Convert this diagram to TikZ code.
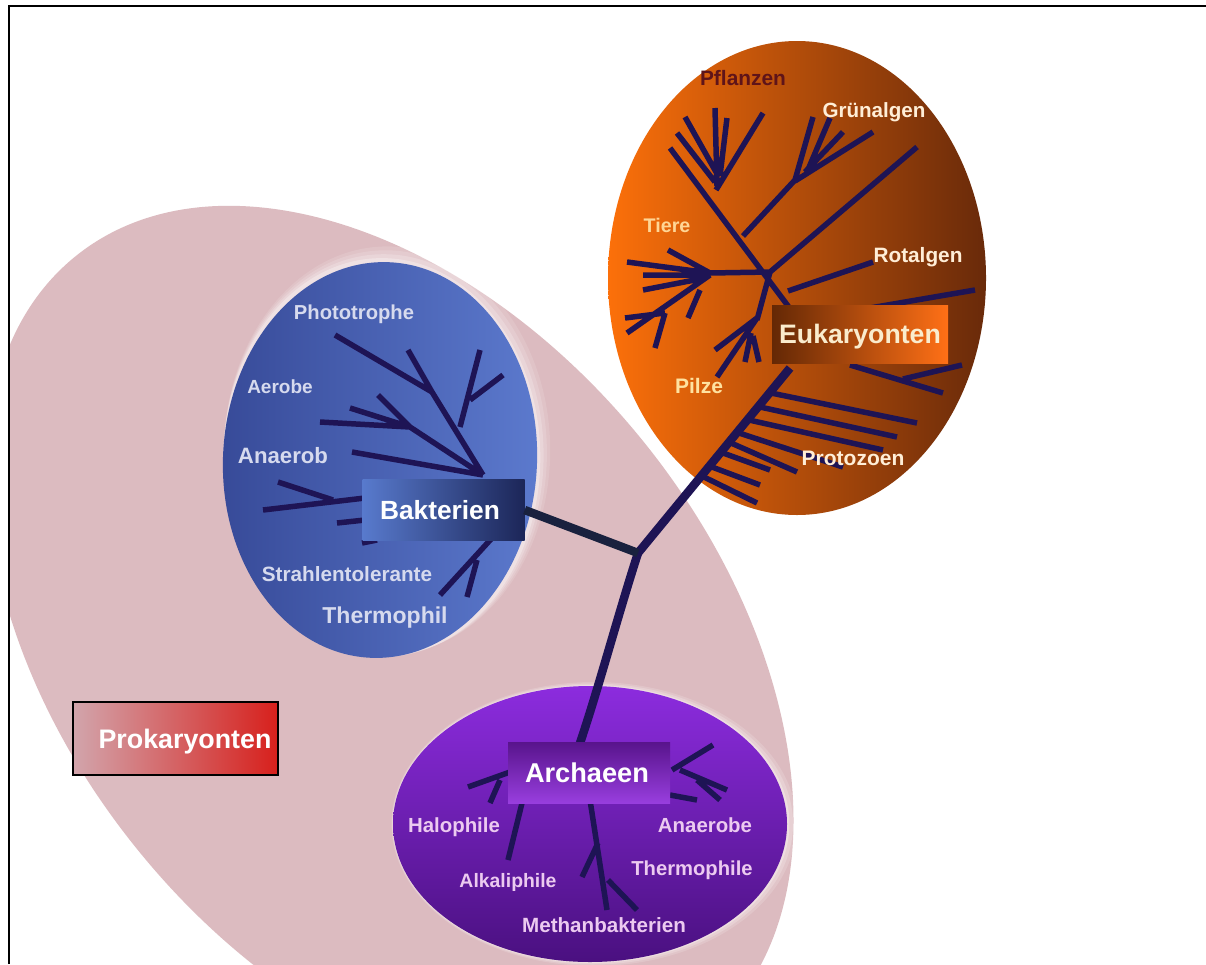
\documentclass[tikz,border=0pt]{standalone}
\usepackage{fontspec}
\setmainfont{Liberation Sans}
\definecolor{pinkbg}{RGB}{220,187,192}
\definecolor{treec}{RGB}{30,20,85}
\definecolor{linkc}{RGB}{25,33,62}
\definecolor{blueL}{RGB}{55,74,152}
\definecolor{blueR}{RGB}{92,122,206}
\definecolor{orA}{RGB}{252,112,10}
\definecolor{orB}{RGB}{226,98,12}
\definecolor{orC}{RGB}{105,42,10}
\definecolor{puT}{RGB}{140,44,222}
\definecolor{puB}{RGB}{74,16,128}
\definecolor{btxt}{RGB}{214,218,238}
\definecolor{atxt}{RGB}{236,202,240}
\definecolor{pflc}{RGB}{95,20,25}
\definecolor{cream}{RGB}{255,238,215}
\definecolor{tierc}{RGB}{255,214,150}
\definecolor{pilzc}{RGB}{255,226,160}
\definecolor{eutxt}{RGB}{250,236,205}
\begin{document}
\begin{tikzpicture}[x=1pt,y=-1pt,
  br/.style={draw=treec, line width=5.5pt},
  trunkline/.style={draw=treec, line width=8.5pt},
  lbl/.style={font=\bfseries\fontsize{#1}{#1}\selectfont, inner sep=0pt, anchor=base},
  lbl/.default=20.5,
  box/.style={inner sep=0pt, minimum width=#1},
]
\useasboundingbox (0,0) rectangle (1206,964);
\fill[white] (0,0) rectangle (1206,964);
\begin{scope}
\clip (10,7.5) rectangle (1206,964);
% Prokaryonten background
\fill[pinkbg, rotate around={-51:(390,645)}] (390,645) ellipse [x radius=500, y radius=325];
% soft halos
\foreach \d/\o in {12/0.12,9/0.15,6/0.2,3/0.3}{
  \fill[white, opacity=\o] (380+\d*0.6,460-\d*0.8) ellipse [x radius=157+\d*0.5, y radius=198+\d*0.5];
}
\foreach \d/\o in {8/0.15,5/0.2,2/0.3}{
  \fill[white, opacity=\o] (797-\d*0.5,278+\d*0.5) ellipse [x radius=189+\d*0.6, y radius=237+\d*0.6];
  \fill[white, opacity=\o] (590+\d*0.5,824) ellipse [x radius=197+\d*0.7, y radius=138+\d*0.5];
}
% Bakterien ellipse
\shade[left color=blueL, right color=blueR, rotate around={-3:(380,460)}] (380,460) ellipse [x radius=157, y radius=198];
% Eukaryonten ellipse
\shade[left color=orA, middle color=orB, right color=orC] (797,278) ellipse [x radius=189, y radius=237];
% Archaeen ellipse
\shade[top color=puT, bottom color=puB] (590,824) ellipse [x radius=197, y radius=138];
\end{scope}
% frame
\draw[line width=2pt] (9,964) -- (9,6) -- (1206,6);

% ---------- Eukaryote tree ----------
\draw[br] (670,148) -- (800,322)
  (715,108) -- (717,186) (727,118) -- (720,176) (763,113) -- (716,190)
  (685,117) -- (716,172) (677,133) -- (715,182)
  (743,236) -- (795,180) (795,180) -- (813,117) (807,172) -- (830,118)
  (805,172) -- (843,132) (795,181) -- (873,132)
  (917,147) -- (770,272)
  (873,262) -- (788,291)
  (975,290) -- (870,308)
  (850,365) -- (943,393) (962,365) -- (903,379)
  (710,273) -- (770,272)
  (627,262) -- (710,273) (668,250) -- (710,273) (643,275) -- (705,275) (643,290) -- (705,278)
  (710,275) -- (627,333) (625,318) -- (665,313) (665,313) -- (655,348) (700,290) -- (688,318)
  (770,272) -- (757,320) (757,318) -- (717,377) (757,318) -- (715,350)
  (751,333) -- (745,362) (753,336) -- (759,362)
  (771,393) -- (917,423) (760,407) -- (897,437) (749,420) -- (883,450)
  (739,433) -- (843,467) (731,443) -- (797,472) (723,453) -- (770,470)
  (712,467) -- (760,485) (704,477) -- (757,503);

% ---------- Bacteria tree ----------
\draw[br] (483,475) -- (432,392) (432,392) -- (335,335) (408,350) -- (432,392)
  (480,350) -- (460,427) (503,375) -- (470,400)
  (483,475) -- (410,427) (410,427) -- (320,422) (350,408) -- (410,427) (378,395) -- (410,427)
  (352,452) -- (483,475)
  (263,510) -- (365,498) (278,482) -- (333,500)
  (337,523) -- (365,520) (362,543) -- (377,540)
  (440,595) -- (492,538) (467,597) -- (477,560);

% ---------- Archaea tree ----------
\draw[br] (468,787) -- (510,772) (490,803) -- (500,780)
  (522,803) -- (508,860)
  (590,800) -- (607,910) (582,877) -- (598,843) (637,910) -- (608,880)
  (713,745) -- (672,770) (680,770) -- (727,790) (697,780) -- (720,800) (670,795) -- (697,800);

% ---------- label boxes ----------
\node[box=162pt, minimum height=61pt, left color={rgb,255:red,88;green,122;blue,205}, right color={rgb,255:red,28;green,38;blue,88}] (bak) at (443.5,510) {};
\node[box=205pt, minimum height=73pt, draw=black, line width=1.3pt, left color={rgb,255:red,210;green,165;blue,172}, right color={rgb,255:red,215;green,32;blue,28}] (pro) at (175.5,738.5) {};

% main trunk and link
\coordinate (junc) at (638,553);
\coordinate (eukfoot) at (790,368);
\coordinate (arcfoot) at (580,743);
\draw[trunkline] (eukfoot) -- (junc);
\draw[trunkline] (junc) .. controls (618,615) and (598,690) .. (arcfoot);
\draw[draw=linkc, line width=8.5pt] (bak.east) -- (junc);
\node[box=176pt, minimum height=58pt, left color={rgb,255:red,100;green,40;blue,5}, right color={rgb,255:red,255;green,112;blue,22}] (euk) at (860,334) {};
\node[box=162pt, minimum height=61pt, top color={rgb,255:red,88;green,20;blue,140}, bottom color={rgb,255:red,152;green,62;blue,222}] (arc) at (589,772.5) {};

% ---------- big labels ----------
\node[lbl=26.3, text=white] (tbak) at (440,519) {Bakterien};
\node[lbl=26.7, text=eutxt] (teuk) at (860,343) {Eukaryonten};
\node[lbl=27.2, text=white] (tarc) at (587,782) {Archaeen};
\node[lbl=26.8, text=white] (tpro) at (185,748) {Prokaryonten};

% ---------- Eukaryote labels ----------
\node[lbl=20.9, text=pflc] (pfl) at (743,85) {Pflanzen};
\node[lbl=20.6, text=cream] (gru) at (874,117) {Grünalgen};
\node[lbl=19.7, text=tierc] (tie) at (667,232) {Tiere};
\node[lbl=20.8, text=cream] (rot) at (918,262) {Rotalgen};
\node[lbl=21, text=pilzc] (pil) at (699,393) {Pilze};
\node[lbl=21, text=cream] (prt) at (853,465) {Protozoen};

% ---------- Bacteria labels ----------
\node[lbl=20.2, text=btxt] (pho) at (354,319) {Phototrophe};
\node[lbl=19, text=btxt] (aer) at (280,393) {Aerobe};
\node[lbl=22.2, text=btxt] (ana) at (283,463) {Anaerob};
\node[lbl=20.7, text=btxt] (str) at (347,581) {Strahlentolerante};
\node[lbl=23, text=btxt] (the) at (385,623) {Thermophil};

% ---------- Archaea labels ----------
\node[lbl=20.4, text=atxt] (hal) at (454,832) {Halophile};
\node[lbl=20.4, text=atxt] (aan) at (705,832) {Anaerobe};
\node[lbl=20.2, text=atxt] (ath) at (692,875) {Thermophile};
\node[lbl=19.4, text=atxt] (alk) at (508,887) {Alkaliphile};
\node[lbl=20.6, text=atxt] (met) at (604,932) {Methanbakterien};
\end{tikzpicture}
\end{document}
